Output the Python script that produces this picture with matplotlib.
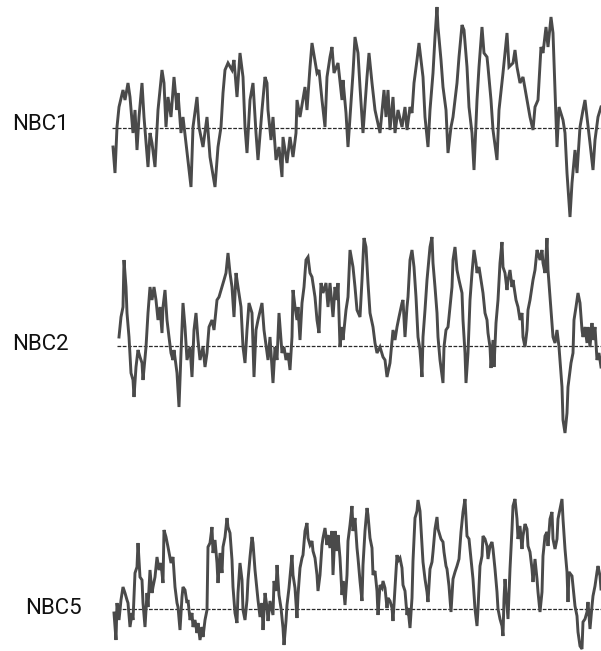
import matplotlib
matplotlib.use("Agg")
import matplotlib.pyplot as plt

# time axis in arbitrary sample units, anomalies in arbitrary units
nbc1_t = [1, 3, 5, 7, 11, 13, 16, 18, 21, 23, 25, 27, 30, 32, 36, 38, 40, 43, 46, 50,
          52, 54, 56, 59, 62, 65, 66, 69, 71, 74, 76, 79, 81, 85, 87, 91, 95, 98, 103, 106,
          109, 111, 113, 116, 120, 122, 125, 128, 131, 133, 135, 138, 141, 144, 146, 150, 153, 155, 156, 159,
          161, 164, 167, 170, 171, 175, 178, 181, 184, 185, 188, 193, 195, 198, 200, 205, 207, 210, 213, 215,
          218, 220, 222, 226, 230, 231, 234, 236, 238, 241, 243, 246, 248, 251, 255, 257, 260, 263, 268, 272,
          274, 276, 278, 281, 283, 286, 290, 293, 295, 298, 300, 302, 305, 307, 311, 313, 316, 318, 321, 323,
          325, 326, 329, 331, 334, 336, 339, 341, 345, 347, 350, 352, 355, 357, 360, 362, 365, 367, 370, 372,
          375, 376, 379, 381, 385, 387, 391, 395, 397, 401, 403, 405, 408, 411, 415, 418, 421, 423, 426, 429,
          431, 434, 436, 439, 441, 443, 445, 447, 451, 453, 455, 458, 460, 463, 465, 468, 471, 473, 475, 478,
          481, 483, 486, 489]
nbc1_v = [-19, -45, 1, 21, 38, 28, 45, 31, -5, 18, -22, 11, 45, 11, -39, -5, -15, -39, 18, 58,
          45, 1, 31, 11, 51, 18, 35, -5, 11, -15, -32, -59, 1, 31, 1, -19, 11, -29, -59, -19,
          1, 35, 58, 65, 58, 68, 31, 75, 51, 1, -25, 28, 45, -5, -32, 18, 51, 45, 18, -12,
          11, -32, -19, -49, -9, -35, -9, -29, -5, 28, 11, 41, 18, 61, 85, 55, 58, 28, 1, 51,
          71, 81, 55, 65, 28, 48, 15, -19, 11, 55, 91, 75, 41, -5, 51, 75, 45, 18, -5, 38,
          11, 38, -2, 31, -5, 18, 1, 21, -2, 21, 15, 45, 68, 85, 51, 11, -19, 18, 55, 91,
          121, 101, 68, 41, 18, -25, 1, 11, 45, 71, 103, 98, 61, 21, -5, -42, 28, 61, 101, 75,
          71, 61, 28, -2, -32, 18, 55, 95, 61, 65, 78, 61, 45, 51, 28, 11, -2, 21, 28, 81,
          75, 101, 81, 111, 95, 38, -19, 21, 8, -5, -45, -89, -55, -22, -45, 1, 18, 28, 11, -15,
          -42, -12, 11, 21]

nbc2_t = [7, 9, 11, 12, 14, 15, 17, 19, 21, 22, 24, 26, 28, 30, 31, 34, 36, 38, 40, 42,
          44, 46, 48, 50, 51, 53, 55, 57, 59, 61, 62, 65, 67, 69, 71, 73, 75, 78, 80, 82,
          84, 86, 88, 91, 93, 95, 97, 100, 102, 105, 107, 110, 112, 114, 116, 118, 120, 122, 124, 126,
          129, 131, 133, 135, 137, 140, 142, 144, 146, 150, 152, 156, 158, 161, 163, 165, 167, 170, 172, 174,
          176, 178, 180, 181, 183, 185, 186, 188, 190, 192, 194, 196, 198, 200, 203, 205, 207, 209, 211, 214,
          216, 218, 221, 223, 225, 226, 228, 230, 231, 234, 236, 238, 241, 243, 245, 248, 250, 252, 254, 256,
          258, 261, 263, 265, 268, 271, 273, 275, 278, 281, 283, 285, 287, 290, 291, 293, 295, 296, 298, 300,
          302, 304, 306, 308, 310, 311, 313, 315, 318, 320, 321, 323, 325, 326, 328, 331, 332, 334, 336, 338,
          340, 341, 343, 345, 347, 350, 351, 353, 354, 356, 358, 360, 362, 364, 365, 367, 369, 371, 373, 375,
          376, 378, 379, 381, 382, 384, 386, 388, 390, 391, 393, 395, 396, 398, 400, 401, 404, 406, 408, 410,
          411, 413, 415, 416, 418, 420, 421, 423, 425, 426, 428, 430, 431, 433, 435, 436, 439, 441, 443, 445,
          447, 450, 451, 453, 455, 456, 459, 461, 462, 464, 466, 468, 470, 471, 473, 475, 476, 478, 480, 481,
          483, 485, 487, 489]
nbc2_v = [9, 29, 39, 86, 59, 33, 9, -27, -34, -51, -21, -4, -11, -17, -34, -1, 33, 59, 46, 59,
          46, 26, 39, 13, 39, 56, 26, 9, -7, -14, -4, -27, -61, -7, 43, 19, -14, -1, -31, 16,
          33, 6, -14, -1, -21, -7, 19, 26, 16, 46, 49, 59, 66, 73, 93, 73, 59, 29, 73, 59,
          39, -1, -17, 16, 43, 33, -31, 16, 26, 43, 16, -14, 9, -37, -1, -14, 33, -7, -1, -14,
          -7, -24, 9, 56, 39, 26, 39, 6, 43, 59, 86, 89, 73, 69, 49, 26, 13, 63, 53, 63,
          39, 63, 29, 59, 46, 63, -1, 19, 6, 36, 49, 96, 79, 59, 36, 29, 66, 108, 99, 63,
          33, 19, 3, -7, -1, -11, -14, -31, -17, 16, 6, 19, 29, 43, 46, 9, 39, 49, 86, 96,
          79, 49, 9, -4, -31, 9, 36, 66, 99, 109, 83, 59, 33, 9, -14, -37, -1, 16, 19, 39,
          59, 86, 99, 76, 66, 53, 26, -7, -37, -7, 46, 73, 96, 83, 73, 79, 66, 53, 33, 26,
          13, -1, -22, 6, -21, 23, 46, 83, 104, 79, 73, 56, 66, 76, 59, 66, 46, 39, 26, 33,
          9, -1, 16, 36, 46, 59, 66, 76, 96, 93, 86, 96, 83, 73, 108, 76, 36, 9, 3, 16,
          -1, -41, -74, -87, -67, -41, -17, -7, 26, 39, 53, 43, 16, 9, 19, 3, 19, -1, 23, 6,
          19, -14, -7, -21]

nbc5_t = [2, 4, 5, 7, 9, 11, 13, 15, 16, 18, 20, 21, 23, 25, 26, 28, 30, 31, 33, 35,
          36, 38, 40, 41, 43, 45, 47, 49, 51, 52, 54, 56, 59, 61, 63, 65, 66, 68, 70, 71,
          73, 75, 76, 78, 80, 81, 83, 85, 86, 88, 90, 91, 93, 95, 96, 98, 100, 101, 103, 105,
          106, 108, 110, 111, 113, 115, 116, 118, 120, 121, 123, 125, 126, 128, 130, 131, 133, 135, 136, 138,
          140, 141, 143, 145, 146, 148, 150, 151, 153, 155, 156, 158, 161, 162, 164, 165, 167, 169, 171, 172,
          174, 175, 177, 180, 181, 183, 185, 186, 188, 190, 191, 193, 195, 196, 198, 200, 201, 203, 205, 206,
          208, 210, 211, 213, 215, 216, 218, 220, 221, 223, 225, 226, 228, 230, 231, 233, 235, 236, 238, 240,
          241, 243, 245, 246, 248, 250, 251, 253, 255, 256, 258, 260, 261, 263, 265, 266, 268, 270, 271, 273,
          275, 276, 278, 280, 281, 283, 285, 286, 288, 290, 291, 293, 295, 296, 298, 300, 301, 303, 305, 306,
          308, 310, 311, 313, 315, 316, 318, 320, 321, 323, 325, 326, 329, 331, 332, 334, 335, 337, 339, 341,
          343, 345, 347, 349, 351, 353, 355, 357, 359, 361, 363, 365, 366, 368, 370, 371, 373, 375, 376, 378,
          380, 381, 383, 385, 386, 388, 390, 391, 392, 393, 395, 396, 398, 400, 401, 403, 405, 406, 408, 410,
          411, 413, 415, 416, 418, 420, 421, 423, 425, 426, 428, 430, 431, 433, 435, 436, 438, 440, 441, 443,
          445, 446, 448, 450, 451, 453, 455, 456, 457, 460, 461, 463, 465, 466, 468, 470, 471, 473, 475, 476,
          478, 480, 481, 483, 485, 486, 488, 489]
nbc5_v = [-4, -31, 6, -11, 9, 22, 16, 9, 6, -18, -4, -11, 36, 42, 66, 32, 29, 6, -18, 16,
          2, 39, 16, 22, 32, 52, 39, 46, 26, 79, 72, 62, 46, 52, 22, 6, 2, -21, 12, 22,
          19, 6, 9, -11, -4, -18, -11, -24, -14, -31, -18, -28, -11, -1, 62, 66, 82, 56, 69, 46,
          26, 56, 36, 62, 72, 91, 82, 76, 49, 22, -4, -14, 16, 46, 29, -1, -11, 9, 29, 52,
          72, 66, 39, 19, 9, -8, 6, -21, 16, 2, -12, 8, -6, 28, 18, 44, 14, 1, -19, -36,
          -12, 4, 21, 54, 34, 21, -9, 14, 41, 51, 54, 78, 86, 71, 64, 68, 58, 51, 34, 18,
          34, 64, 71, 81, 64, 74, 61, 78, 34, 78, 58, 74, 51, 14, 28, 4, 34, 68, 84, 103,
          78, 91, 61, 51, 28, 8, 44, 78, 101, 94, 71, 61, 34, 38, 18, -6, 24, 21, 28, 21,
          1, 11, 8, 1, -12, 21, 54, 48, 51, 41, 24, 18, -6, 1, -19, 11, 48, 91, 98, 109,
          98, 63, 47, 30, 17, 7, 40, 47, 57, 80, 92, 80, 70, 67, 57, 43, 40, 23, -3, 30,
          37, 43, 50, 77, 97, 110, 73, 70, 50, 30, 0, -17, 0, 43, 53, 73, 70, 63, 50, 63,
          67, 60, 40, 17, 0, -10, -17, -27, 10, 30, 3, -10, 40, 80, 103, 110, 90, 70, 83, 60,
          73, 85, 80, 63, 57, 40, 27, 50, 30, 17, -3, 17, 53, 73, 77, 63, 90, 97, 70, 60,
          70, 90, 100, 110, 90, 60, 37, 7, 37, 33, 23, 3, -7, -23, -37, -40, -13, -10, -3, 7,
          -20, 3, 13, 23, 37, 43, 33, 20]

labels = ["NBC1", "NBC2", "NBC5"]
series = [(nbc1_t, nbc1_v), (nbc2_t, nbc2_v), (nbc5_t, nbc5_v)]

# layout in pixels of the 601x651 canvas
W, H = 601, 651
baselines = [128, 346, 609]
label_y = [124, 345, 609]
label_x = [12, 12, 25]
ylims = [(-100, 128), (-100, 120), (-42, 120)]
line_start = [0, 5, 5]

fig = plt.figure(figsize=(W / 100, H / 100), dpi=100)
fig.patch.set_facecolor("white")

for i in range(3):
    lo, hi = ylims[i]
    b = baselines[i]
    ax = fig.add_axes([112 / W, (H - (b - lo)) / H, 489 / W, (hi - lo) / H])
    ax.set_xlim(0, 489)
    ax.set_ylim(lo, hi)
    ax.axis("off")
    t, v = series[i]
    ax.plot([line_start[i], 489], [0, 0], color="#2a2a2a", lw=0.9,
            linestyle=(0, (3, 1.2)), clip_on=False)
    ax.plot(t, v, color="#4a4a4a", lw=2.1, solid_joinstyle="miter", clip_on=False)
    fig.text(label_x[i] / W, 1 - label_y[i] / H, labels[i], fontsize=16,
             family="Roboto", color="#111111", va="center", ha="left")

fig.savefig("out.png", dpi=100, facecolor="white")
